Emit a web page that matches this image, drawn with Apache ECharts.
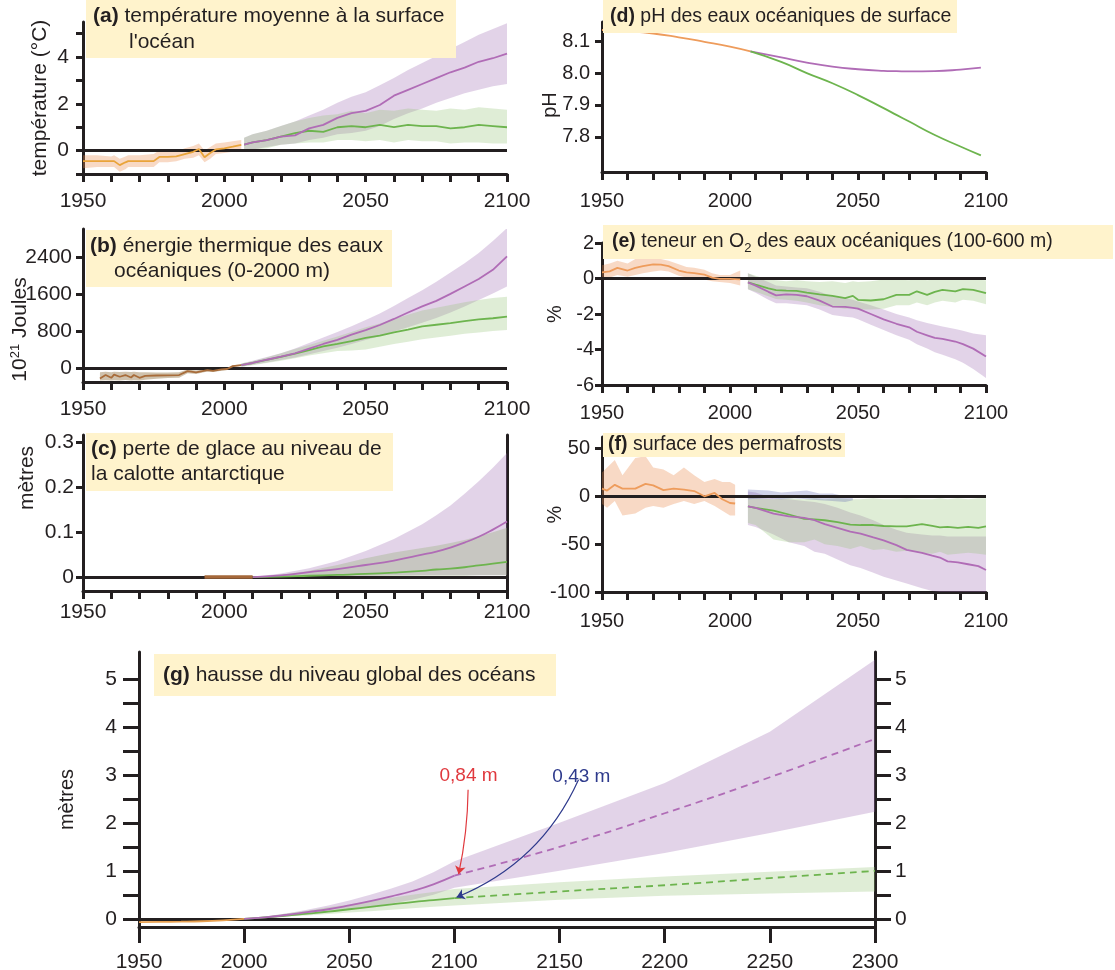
<!DOCTYPE html>
<html>
<head>
<meta charset="utf-8">
<script src="https://cdn.jsdelivr.net/npm/echarts@6.0.0/dist/echarts.min.js"></script>
<style>
  html, body { margin: 0; padding: 0; background: #fff; }
  #main { width: 1115px; height: 970px; }
</style>
</head>
<body>
<div id="main"></div>
<script type="text/javascript">

// ---- (a) température moyenne à la surface de l'océan
var aObsYears = [1950,1955,1960,1961,1963,1965,1966,1970,1975,1977,1980,1983,1986,1989,1991,1993,1995,1997,2000,2003,2006];
var aObs   = [-0.45,-0.45,-0.45,-0.45,-0.62,-0.5,-0.45,-0.45,-0.45,-0.27,-0.27,-0.25,-0.15,-0.05,0.07,-0.28,-0.1,0.05,0.1,0.17,0.25];
var aObsHi = [-0.2,-0.2,-0.25,-0.2,-0.35,-0.25,-0.2,-0.2,-0.15,0.0,0.0,-0.05,0.1,0.2,0.3,0.0,0.15,0.3,0.35,0.4,0.45];
var aObsLo = [-0.75,-0.7,-0.7,-0.7,-0.9,-0.8,-0.7,-0.7,-0.7,-0.5,-0.5,-0.45,-0.35,-0.3,-0.2,-0.5,-0.35,-0.15,-0.1,-0.05,0.05];
var aYears   = [2007,2010,2015,2020,2025,2030,2035,2040,2045,2050,2055,2060,2065,2070,2075,2080,2085,2090,2095,2100];
var aHigh    = [0.26,0.35,0.45,0.6,0.65,0.95,1.1,1.4,1.6,1.7,1.95,2.35,2.6,2.85,3.1,3.35,3.55,3.8,3.95,4.15];
var aHighUp  = [0.55,0.7,0.85,1.05,1.25,1.5,1.75,2.05,2.3,2.5,2.8,3.1,3.45,3.75,4.05,4.35,4.65,4.95,5.2,5.45];
var aHighLo  = [-0.05,0.05,0.15,0.25,0.3,0.45,0.55,0.7,0.75,0.85,1.05,1.35,1.6,1.8,2.05,2.25,2.45,2.6,2.75,2.85];
var aLow     = [0.26,0.35,0.45,0.6,0.75,0.85,0.8,1.0,1.05,1.0,1.1,1.0,1.1,1.05,1.05,0.95,1.0,1.1,1.05,1.0];
var aLowUp   = [0.55,0.7,0.85,1.05,1.25,1.4,1.5,1.55,1.7,1.6,1.75,1.7,1.8,1.75,1.7,1.8,1.75,1.85,1.8,1.75];
var aLowLo   = [-0.05,0.05,0.1,0.25,0.3,0.35,0.35,0.45,0.45,0.4,0.45,0.35,0.45,0.4,0.4,0.3,0.35,0.35,0.3,0.3];

// ---- (b) énergie thermique (10^21 J)
var bObsYears = [1956,1958,1960,1961,1963,1965,1967,1968,1970,1972,1976,1980,1984,1987,1990,1994,1996,1999,2001,2003,2006];
var bObs   = [-223,-150,-209,-140,-187,-150,-202,-150,-209,-166,-160,-155,-150,-65,-94,-43,-58,-29,-20,43,65];
var bObsHi = [-90,-80,-90,-80,-85,-80,-85,-80,-90,-90,-95,-95,-90,-30,-50,-15,-25,-5,0,60,80];
var bObsLo = [-270,-260,-270,-260,-265,-255,-265,-260,-270,-250,-230,-215,-210,-110,-130,-75,-85,-55,-40,25,50];
var bYears   = [2006,2010,2015,2020,2025,2030,2035,2040,2045,2050,2055,2060,2065,2070,2075,2080,2085,2090,2095,2100];
var bHigh    = [65,110,180,245,320,420,520,610,720,820,930,1060,1200,1330,1450,1600,1760,1920,2120,2410];
var bHighUp  = [100,160,240,320,420,540,660,780,900,1035,1180,1340,1510,1680,1860,2060,2260,2480,2740,3020];
var bHighLo  = [30,70,120,175,230,300,370,440,520,605,690,790,880,980,1080,1200,1330,1470,1610,1760];
var bLow     = [65,110,175,240,310,390,470,520,580,650,700,770,830,900,935,970,1015,1050,1075,1110];
var bLowUp   = [100,150,230,320,410,500,590,680,780,880,960,1060,1150,1240,1300,1360,1420,1470,1510,1540];
var bLowLo   = [30,60,110,160,210,270,320,370,380,400,460,520,570,620,660,700,740,770,800,820];

// ---- (c) perte de glace antarctique (m)
var cObsYears = [1993,2010];
var cObs      = [0,0];
var cYears   = [2010,2020,2030,2040,2050,2060,2070,2075,2080,2085,2090,2095,2100];
var cHigh    = [0,0.004,0.011,0.018,0.027,0.037,0.05,0.057,0.066,0.077,0.09,0.106,0.124];
var cHighUp  = [0,0.008,0.02,0.036,0.058,0.085,0.118,0.138,0.16,0.186,0.214,0.244,0.277];
var cHighLo  = [0,0.001,0.002,0.003,0.003,0.004,0.004,0.004,0.004,0.004,0.004,0.004,0.004];
var cLow     = [0,0.001,0.003,0.005,0.007,0.01,0.014,0.017,0.019,0.022,0.026,0.03,0.034];
var cLowUp   = [0,0.005,0.014,0.027,0.042,0.055,0.065,0.07,0.076,0.083,0.091,0.1,0.11];
var cLowLo   = [0,0,0.001,0.001,0.002,0.002,0.003,0.003,0.003,0.003,0.004,0.004,0.004];

// ---- (d) pH
var dObsYears = [1950,1960,1970,1980,1990,2000,2008];
var dObs      = [8.135,8.131,8.124,8.112,8.098,8.083,8.068];
var dYears = [2008,2020,2030,2040,2050,2060,2065,2070,2080,2090,2098];
var dHigh  = [8.068,8.049,8.033,8.02,8.012,8.007,8.006,8.005,8.006,8.011,8.017];
var dLow   = [8.068,8.035,8.0,7.968,7.931,7.89,7.869,7.848,7.806,7.77,7.742];

// ---- (e) teneur en O2 (%)
var eObsYears = [1950,1953,1956,1960,1963,1966,1970,1973,1976,1980,1983,1986,1990,1993,1996,2000,2004];
var eObs   = [0.34,0.4,0.6,0.45,0.6,0.7,0.8,0.78,0.7,0.45,0.35,0.3,0.22,0.05,-0.02,-0.02,-0.05];
var eObsHi = [0.75,0.85,1.0,0.85,1.1,1.25,1.15,1.1,1.0,0.8,0.65,0.6,0.5,0.3,0.2,0.2,0.45];
var eObsLo = [0.0,0.05,0.2,0.1,0.2,0.3,0.4,0.45,0.4,0.15,0.05,0.0,-0.05,-0.15,-0.2,-0.25,-0.4];
var eYears  = [2007,2010,2015,2018,2022,2026,2030,2035,2040,2045,2048,2050,2055,2060,2065,2070,2073,2077,2080,2083,2088,2091,2095,2100];
var eHigh   = [-0.22,-0.4,-0.75,-0.95,-0.9,-0.92,-1.0,-1.25,-1.58,-1.6,-1.65,-1.7,-2.0,-2.3,-2.55,-2.75,-3.0,-3.2,-3.35,-3.4,-3.55,-3.7,-3.95,-4.4];
var eHighUp = [0.3,0.1,-0.2,-0.4,-0.45,-0.5,-0.55,-0.75,-1.0,-1.1,-1.2,-1.3,-1.5,-1.75,-2.0,-2.2,-2.35,-2.5,-2.6,-2.7,-2.85,-2.95,-3.1,-3.2];
var eHighLo = [-0.6,-0.8,-1.2,-1.4,-1.4,-1.45,-1.5,-1.75,-2.05,-2.15,-2.2,-2.3,-2.6,-2.9,-3.2,-3.45,-3.7,-3.95,-4.15,-4.3,-4.55,-4.75,-5.1,-5.6];
var eLow    = [-0.22,-0.35,-0.55,-0.65,-0.68,-0.7,-0.79,-0.9,-0.98,-1.1,-0.98,-1.2,-1.24,-1.17,-0.92,-0.92,-0.72,-0.92,-0.75,-0.64,-0.72,-0.6,-0.64,-0.83];
var eLowUp  = [0.3,0.15,-0.05,-0.1,-0.15,-0.1,-0.15,-0.2,-0.15,-0.25,-0.15,-0.2,-0.15,-0.05,-0.05,-0.1,0.0,-0.1,-0.05,0.0,-0.05,0.0,-0.05,-0.1];
var eLowLo  = [-0.6,-0.75,-1.0,-1.15,-1.2,-1.25,-1.35,-1.5,-1.6,-1.7,-1.65,-1.75,-1.75,-1.7,-1.5,-1.5,-1.35,-1.5,-1.35,-1.25,-1.35,-1.2,-1.25,-1.45];

// ---- (f) surface des permafrosts (%)
var fObsYears = [1950,1952,1955,1958,1963,1967,1970,1974,1978,1982,1986,1990,1994,1997,2000,2002];
var fObs   = [8,6,12,8,8,13,11.5,6.5,8,7,5.5,0,3.5,-3,-7,-7.5];
var fObsHi = [25,30,38,22,40,42,30,28,22,30,22,15,18,15,15,12];
var fObsLo = [-8,-12,-5,-20,-18,-12,-10,-12,-8,-5,-8,-5,-10,-15,-20,-20];
var fHistYears = [2007,2015,2020,2025,2030,2035,2040,2045,2048];
var fHistHi    = [7,6,4,5,6,3,3,0,-2];
var fHistLo    = [-3,-2,-3,-2,-3,-4,-5,-6,-4];
var fYears  = [2007,2010,2017,2023,2029,2033,2037,2042,2047,2051,2056,2060,2065,2069,2075,2079,2082,2085,2089,2093,2097,2100];
var fHigh   = [-10.5,-12,-18,-21,-22.5,-25,-29,-33,-37,-39,-43,-46,-51,-56,-59,-62,-64,-68,-69,-71,-73,-77];
var fHighUp = [5,4,-2,-3,-5,-6,-8,-12,-17,-20,-25,-30,-35,-38,-40,-41,-41,-42,-42,-42,-42,-42];
var fHighLo = [-30,-32,-40,-48,-52,-58,-60,-66,-72,-75,-80,-84,-88,-91,-96,-99,-100,-100,-100,-100,-100,-100];
var fLow    = [-10.5,-12,-15,-19,-23.5,-24,-25,-27,-29.5,-30,-30,-31,-31.5,-31.5,-29,-31,-32.5,-32,-33,-32,-33,-31.5];
var fLowUp  = [-2,-2,-3,-2,-3,-2,-3,-2,-3,-3,-2,-3,-3,-2,-3,-3,-2,-3,-2,-3,-2,-2];
var fLowLo  = [-28,-30,-45,-48,-48,-45,-50,-52,-55,-52,-56,-55,-58,-57,-59,-60,-58,-61,-60,-59,-60,-61];

// ---- (g) hausse du niveau global des océans (m)
var gObsYears = [1950,1960,1970,1980,1990,2000];
var gObs      = [-0.07,-0.065,-0.06,-0.05,-0.03,0.0];
var gYears = [2000,2010,2020,2030,2040,2050,2060,2070,2080,2090,2100];
var gHigh  = [0,0.03,0.08,0.14,0.2,0.28,0.37,0.47,0.58,0.72,0.9];
var gLow   = [0,0.03,0.07,0.11,0.15,0.2,0.25,0.3,0.35,0.39,0.43];
var gExtYears = [2100,2150,2200,2250,2300];
var gHighExt  = [0.9,1.5,2.2,2.95,3.75];
var gLowExt   = [0.43,0.57,0.7,0.85,1.0];
var gBandYears = [2000,2010,2020,2030,2040,2050,2060,2070,2080,2090,2100,2150,2200,2250,2300];
var gHighUp = [0,0.05,0.11,0.19,0.28,0.38,0.5,0.63,0.78,0.97,1.2,2.0,2.83,3.9,5.4];
var gHighLo = [0,0.02,0.05,0.09,0.14,0.19,0.25,0.32,0.4,0.5,0.65,1.0,1.37,1.79,2.23];
var gLowUp  = [0,0.05,0.11,0.17,0.24,0.3,0.37,0.44,0.5,0.56,0.62,0.76,0.88,0.98,1.08];
var gLowLo  = [0,0.02,0.05,0.07,0.1,0.13,0.16,0.19,0.22,0.25,0.28,0.4,0.48,0.53,0.57];

// annotation arrows in (g): [year, metres] of label end and of arrow tip
var noteHigh = [[2106.5, 2.69], [2102, 0.93]];
var noteLow  = [[2159, 2.9], [2101, 0.45]];

// ticks & labels
var decadeTicks = [1950,1960,1970,1980,1990,2000,2010,2020,2030,2040,2050,2060,2070,2080,2090,2100];
var yearLabels  = [1950,2000,2050,2100];
var gYearTicks  = [1950,2000,2050,2100,2150,2200,2250,2300];
var gLevelTicks = [0,0.5,1,1.5,2,2.5,3,3.5,4,4.5,5];
var gLevelLabels = [0,1,2,3,4,5];

var F = "'Liberation Sans', Arial, Helvetica, sans-serif";
var ink = '#231f20';
var purple = '#b06cb6', green = '#6db44e', orange = '#ee9c5c';
var purpleBand = 'rgba(160,110,180,0.3)';
var greenBand = 'rgba(150,195,120,0.3)';
var orangeBand = 'rgba(235,140,80,0.33)';
var red = '#e0393e', blue = '#2e3a8c';

function pairs(xs, ys) {
	return xs.map(function (x, i) { return [x, ys[i]]; });
}

function band(gi, xs, lo, hi, color) {
	return {
		type: 'custom', xAxisIndex: gi, yAxisIndex: gi, z: 1, silent: true, clip: true,
		data: xs.map(function (x, i) { return [x, lo[i], hi[i]]; }),
		encode: { x: 0, y: [1, 2] },
		renderItem: function (params, api) {
			if (params.dataIndex !== 0) return null;
			var pts = [];
			for (var i = 0; i < xs.length; i++) pts.push(api.coord([xs[i], hi[i]]));
			for (var j = xs.length - 1; j >= 0; j--) pts.push(api.coord([xs[j], lo[j]]));
			return { type: 'polygon', shape: { points: pts }, style: { fill: color } };
		}
	};
}

function line(gi, xs, ys, color, extra) {
	var s = {
		type: 'line', xAxisIndex: gi, yAxisIndex: gi, z: 5, silent: true,
		data: pairs(xs, ys), symbol: 'none', showSymbol: false,
		lineStyle: { color: color, width: 1.8 }
	};
	for (var k in extra) s[k] = extra[k];
	return s;
}

function zero(gi) {
	return {
		type: 'line', xAxisIndex: gi, yAxisIndex: gi, data: [], silent: true,
		markLine: {
			silent: true, symbol: ['none', 'none'], z: 4, animation: false,
			label: { show: false },
			lineStyle: { color: ink, width: 3, type: 'solid' },
			data: [{ yAxis: 0 }]
		}
	};
}

// curved arrow from a label down to the 2100 value
function arrow(gi, text, color, note, curve) {
	return {
		type: 'lines', coordinateSystem: 'cartesian2d', xAxisIndex: gi, yAxisIndex: gi, z: 7, silent: true,
		symbol: ['none', 'arrow'], symbolSize: 8,
		lineStyle: { color: color, width: 1.2, type: 'solid', curveness: curve, opacity: 1 },
		label: { show: true, position: 'start', formatter: text, color: color, fontSize: 19, fontFamily: F, distance: 4 },
		data: [{ coords: note }]
	};
}

function xAx(gi, min, max, ticks, labels, tickLen, margin, fs) {
	return {
		type: 'value', gridIndex: gi, min: min, max: max,
		axisLine: { onZero: false, lineStyle: { color: ink, width: 3 } },
		axisTick: { customValues: ticks, length: tickLen, lineStyle: { color: ink, width: 3 } },
		axisLabel: { customValues: labels, color: ink, fontSize: fs, fontFamily: F, margin: margin,
			formatter: function (v) { return String(v); } },
		splitLine: { show: false }
	};
}

function yAx(gi, min, max, ticks, labels, name, gap, pad, fs, margin, fmt) {
	return {
		type: 'value', gridIndex: gi, min: min, max: max,
		name: name, nameLocation: 'middle', nameGap: gap, nameRotate: 90, nameMoveOverlap: false,
		nameTextStyle: { color: ink, fontSize: fs, fontFamily: F, padding: pad || 0,
			rich: {
				n: { fontSize: fs, fontFamily: F, color: ink, lineHeight: 22 },
				sup: { fontSize: 13, fontFamily: F, color: ink, verticalAlign: 'top', lineHeight: 12 }
			} },
		axisLine: { onZero: false, lineStyle: { color: ink, width: 3 } },
		axisTick: { customValues: ticks, length: 7, lineStyle: { color: ink, width: 3 } },
		axisLabel: { customValues: labels, color: ink, fontSize: fs, fontFamily: F, margin: margin,
			formatter: fmt || function (v) { return String(v); } },
		splitLine: { show: false }
	};
}

function ttl(text, left, top, width, pad, lh, size) {
	return {
		text: text, left: left, top: top, padding: pad, backgroundColor: '#fff3cc',
		textStyle: {
			color: ink, fontFamily: F, fontSize: size, fontWeight: 'normal', lineHeight: lh, width: width,
			rich: {
				b: { fontWeight: 'bold', fontSize: size, fontFamily: F, color: ink, lineHeight: lh },
				i1: { fontSize: size, fontFamily: F, color: ink, lineHeight: lh, padding: [0, 0, 0, 36] },
				i2: { fontSize: size, fontFamily: F, color: ink, lineHeight: lh, padding: [0, 0, 0, 24] },
				s: { fontSize: 13, fontFamily: F, color: ink, lineHeight: 14, verticalAlign: 'bottom' }
			}
		}
	};
}

var myChart = echarts.init(document.getElementById('main'), null, { renderer: 'canvas' });

var series = [];
// (a)
series.push(band(0, aObsYears, aObsLo, aObsHi, orangeBand));
series.push(band(0, aYears, aHighLo, aHighUp, purpleBand));
series.push(band(0, aYears, aLowLo, aLowUp, greenBand));
series.push(zero(0));
series.push(line(0, aObsYears, aObs, '#e9a43a'));
series.push(line(0, aYears, aLow, green));
series.push(line(0, aYears, aHigh, purple));
// (b)
series.push(band(1, bObsYears, bObsLo, bObsHi, 'rgba(140,110,60,0.42)'));
series.push(band(1, bYears, bHighLo, bHighUp, purpleBand));
series.push(band(1, bYears, bLowLo, bLowUp, greenBand));
series.push(zero(1));
series.push(line(1, bObsYears, bObs, '#a86c3a'));
series.push(line(1, bYears, bLow, green));
series.push(line(1, bYears, bHigh, purple));
// (c)
series.push(band(2, cYears, cHighLo, cHighUp, purpleBand));
series.push(band(2, cYears, cLowLo, cLowUp, 'rgba(150,175,120,0.35)'));
series.push(zero(2));
series.push(line(2, cObsYears, cObs, '#a5683a', { z: 6, lineStyle: { color: '#a5683a', width: 3.5 } }));
series.push(line(2, cYears, cLow, green, { smooth: true }));
series.push(line(2, cYears, cHigh, purple, { smooth: true }));
// (d)
series.push(line(3, dObsYears, dObs, orange, { smooth: true }));
series.push(line(3, dYears, dHigh, purple, { smooth: true }));
series.push(line(3, dYears, dLow, green, { smooth: true }));
// (e)
series.push(band(4, eObsYears, eObsLo, eObsHi, orangeBand));
series.push(band(4, eYears, eHighLo, eHighUp, purpleBand));
series.push(band(4, eYears, eLowLo, eLowUp, greenBand));
series.push(zero(4));
series.push(line(4, eObsYears, eObs, orange));
series.push(line(4, eYears, eLow, green));
series.push(line(4, eYears, eHigh, purple));
// (f)
series.push(band(5, fObsYears, fObsLo, fObsHi, orangeBand));
series.push(band(5, fYears, fHighLo, fHighUp, purpleBand));
series.push(band(5, fYears, fLowLo, fLowUp, greenBand));
series.push(band(5, fHistYears, fHistLo, fHistHi, 'rgba(100,105,180,0.3)'));
series.push(zero(5));
series.push(line(5, fObsYears, fObs, orange));
series.push(line(5, fYears, fLow, green));
series.push(line(5, fYears, fHigh, purple));
// (g)
series.push(band(6, gBandYears, gHighLo, gHighUp, purpleBand));
series.push(band(6, gBandYears, gLowLo, gLowUp, greenBand));
series.push(zero(6));
series.push(line(6, gObsYears, gObs, '#e8a050', { smooth: true }));
series.push(line(6, gYears, gLow, green, { smooth: true }));
series.push(line(6, gYears, gHigh, purple, { smooth: true }));
series.push(line(6, gExtYears, gLowExt, green, { smooth: true, lineStyle: { color: green, width: 1.8, type: [7, 5] } }));
series.push(line(6, gExtYears, gHighExt, purple, { smooth: true, lineStyle: { color: purple, width: 1.8, type: [7, 5] } }));
series.push(arrow(6, '0,84 m', red, noteHigh, 0.05));
series.push(arrow(6, '0,43 m', blue, noteLow, 0.2));

var option = {
	animation: false,
	backgroundColor: '#fff',
	title: [
		ttl('{b|(a)} température moyenne à la surface\n{i1|l\'océan}', 86, 0, 357, [3, 6, 3, 7], 26, 21),
		ttl('{b|(b)} énergie thermique des eaux\n{i2|océaniques (0-2000 m)}', 86, 230, 300, [4, 2, 3, 4], 25, 21),
		ttl('{b|(c)} perte de glace au niveau de\nla calotte antarctique', 86, 433, 300, [4, 2, 4, 5], 25, 21),
		ttl('{b|(d)} pH des eaux océaniques de surface', 603, 0, 345, [4, 2, 3, 7], 26, 19.5),
		ttl('{b|(e)} teneur en O{s|2} des eaux océaniques (100-600 m)', 603, 225, 500, [4, 1, 4, 9], 26, 19.5),
		ttl('{b|(f)} surface des permafrosts', 603, 433, 236, [1, 1, 1, 5], 22, 19.5),
		ttl('{b|(g)} hausse du niveau global des océans', 154, 654, 385, [7, 8, 7, 9], 28, 21)
	],
	grid: [
		{ left: 83, top: 22, width: 424, height: 152, outerBoundsMode: 'none' },
		{ left: 83, top: 229, width: 424, height: 153, outerBoundsMode: 'none' },
		{ left: 83, top: 435, width: 424, height: 156, outerBoundsMode: 'none' },
		{ left: 602, top: 22, width: 384, height: 150, outerBoundsMode: 'none' },
		{ left: 602, top: 243, width: 384, height: 142, outerBoundsMode: 'none' },
		{ left: 602, top: 437, width: 384, height: 155, outerBoundsMode: 'none' },
		{ left: 139, top: 652, width: 736, height: 275, outerBoundsMode: 'none' }
	],
	xAxis: [
		xAx(0, 1950, 2100, decadeTicks, yearLabels, 8, 17, 21),
		xAx(1, 1950, 2100, decadeTicks, yearLabels, 8, 17, 21),
		xAx(2, 1950, 2100, decadeTicks, yearLabels, 8, 11, 21),
		xAx(3, 1950, 2100, decadeTicks, yearLabels, 8, 19, 20),
		xAx(4, 1950, 2100, decadeTicks, yearLabels, 8, 18, 20),
		xAx(5, 1950, 2100, decadeTicks, yearLabels, 8, 19, 20),
		xAx(6, 1950, 2300, gYearTicks, gYearTicks, 16, 25, 21)
	],
	yAxis: [
		yAx(0, -1, 5.5, [-1, 0, 1, 2, 3, 4, 5], [0, 2, 4], 'température (°C)', 32, 0, 21, 14),
		yAx(1, -300, 3000, [0, 800, 1600, 2400], [0, 800, 1600, 2400], '{n|10}{sup|21}{n| Joules}', 52, [0, 48, 0, 0], 21, 11),
		yAx(2, -0.031, 0.317, [0, 0.1, 0.2, 0.3], [0, 0.1, 0.2, 0.3], 'mètres', 45, [0, 0, 0, 70], 21, 9),
		yAx(3, 7.69, 8.16, [7.8, 7.9, 8.0, 8.1], [7.8, 7.9, 8.0, 8.1], 'pH', 42, [0, 16, 0, 0], 20, 12,
			function (v) { return v.toFixed(1); }),
		yAx(4, -6, 2, [-6, -4, -2, 0, 2], [-6, -4, -2, 0, 2], '%', 37, 0, 20, 8),
		yAx(5, -100, 62, [-100, -50, 0, 50], [-100, -50, 0, 50], '%', 37, 0, 20, 12),
		{
			type: 'value', gridIndex: 6, min: -0.17, max: 5.56,
			name: 'mètres', nameLocation: 'middle', nameGap: 62, nameRotate: 90, nameMoveOverlap: false,
			nameTextStyle: { color: ink, fontSize: 20, fontFamily: F, padding: [0, 20, 0, 0] },
			axisLine: { onZero: false, lineStyle: { color: ink, width: 3 } },
			axisTick: { customValues: gLevelTicks, length: 16, lineStyle: { color: ink, width: 3 } },
			axisLabel: { customValues: gLevelLabels, color: ink, fontSize: 21, fontFamily: F, margin: 22 },
			splitLine: { show: false }
		},
		// right border of (c)
		{
			type: 'value', gridIndex: 2, position: 'right', min: -0.031, max: 0.317,
			axisLine: { show: true, onZero: false, lineStyle: { color: ink, width: 3 } },
			axisTick: { show: false }, axisLabel: { show: false }, splitLine: { show: false }
		},
		// right axis of (g)
		{
			type: 'value', gridIndex: 6, position: 'right', min: -0.17, max: 5.56,
			axisLine: { show: true, onZero: false, lineStyle: { color: ink, width: 3 } },
			axisTick: { customValues: gLevelTicks, length: 16, lineStyle: { color: ink, width: 3 } },
			axisLabel: { customValues: gLevelLabels, color: ink, fontSize: 21, fontFamily: F, margin: 20 },
			splitLine: { show: false }
		}
	],
	series: series
};

myChart.setOption(option);
</script>
</body>
</html>
